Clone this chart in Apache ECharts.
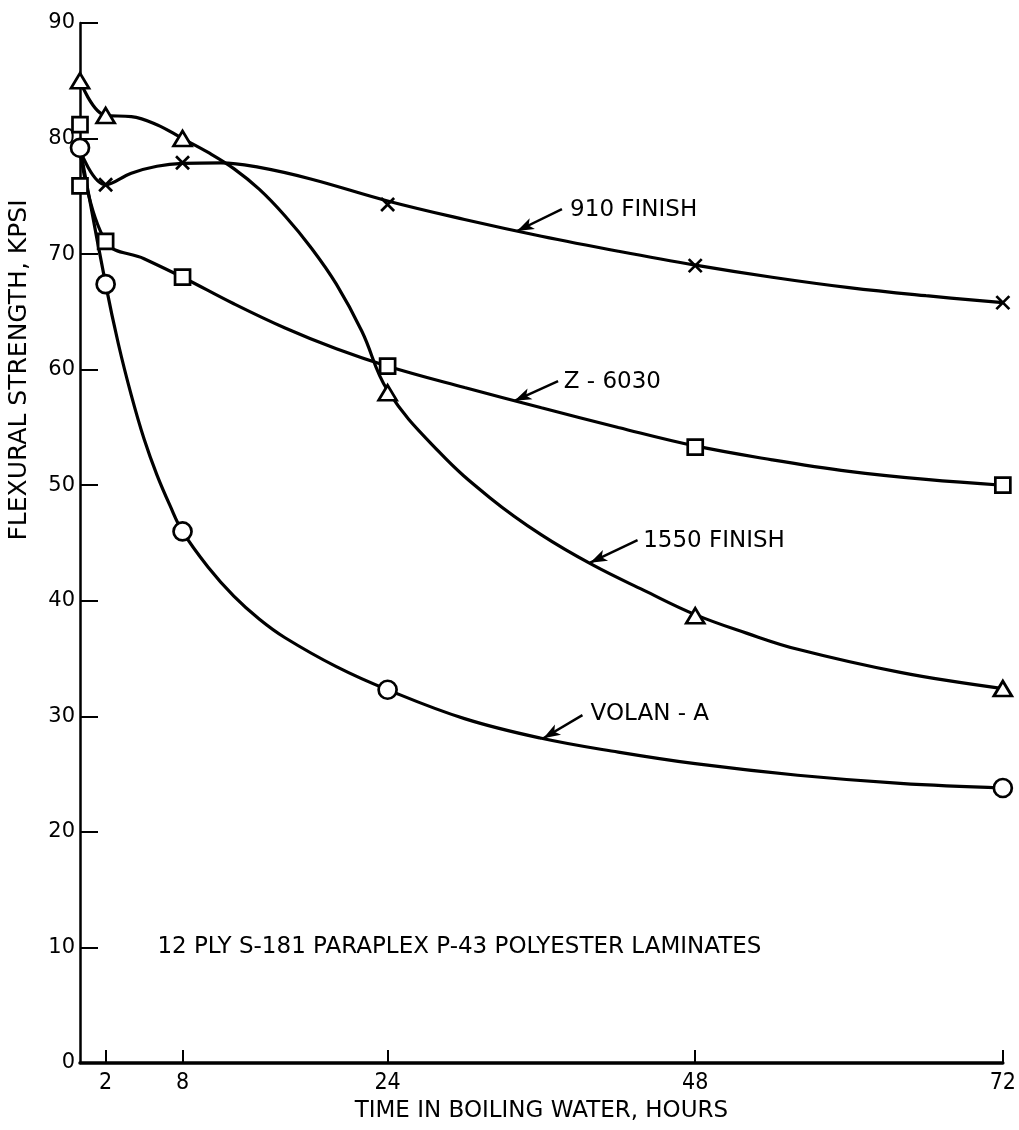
<!DOCTYPE html>
<html>
<head>
<meta charset="utf-8">
<script src="https://cdn.jsdelivr.net/npm/echarts@6/dist/echarts.min.js"></script>
<style>
html,body{margin:0;padding:0;background:#fff;}
#chart{width:1019px;height:1130px;}
</style>
</head>
<body>
<div id="chart"></div>
<script>
// ---------------- data ----------------
const xTicks = [2, 8, 24, 48, 72];

// plotted test points (markers)
const markHours = [0, 2, 8, 24, 48, 72];
const finish1550Marks = [85, 82, 80, 58, 38.7, 32.4];
const finish910MarkHours = [2, 8, 24, 48, 72];
const finish910Marks = [76, 77.9, 74.3, 69, 65.8];
const z6030MarkHours = [0, 0, 2, 8, 24, 48, 72];
const z6030Marks = [81.2, 75.9, 71.1, 68, 60.3, 53.3, 50];
const volanMarkHours = [0, 2, 8, 24, 72];
const volanMarks = [79.2, 67.4, 46, 32.3, 23.8];

// points
const curve1550Hours = [0, 2, 4, 6, 8, 10, 12, 14, 16, 18, 20, 22, 24, 28, 32, 36, 40, 44, 48, 52, 56, 64, 72];
const curve1550 = [85, 82, 81.9, 81.2, 80, 78.8, 77.4, 75.6, 73.3, 70.6, 67.4, 63.3, 58.2, 52.9, 48.9, 45.7, 43.1, 40.9, 38.8, 37.2, 35.8, 33.8, 32.4];
const curve910Hours = [0, 2, 4, 6, 8, 11, 14, 18, 24, 30, 36, 42, 48, 54, 60, 66, 72];
const curve910 = [79, 76, 77.0, 77.6, 77.85, 77.9, 77.5, 76.5, 74.6, 73.0, 71.55, 70.25, 69.05, 68.0, 67.1, 66.4, 65.8];
const curveZ6030Hours = [0, 2, 5, 8, 12, 16, 20, 24, 30, 36, 42, 48, 54, 60, 66, 72];
const curveZ6030 = [79, 71.1, 69.6, 68, 65.7, 63.6, 61.8, 60.3, 58.45, 56.7, 55.0, 53.4, 52.2, 51.2, 50.5, 50.0];
const curveVolanHours = [0, 2, 3, 4, 5, 6, 7, 8, 10, 12, 14, 16, 20, 24, 30, 36, 42, 48, 56, 64, 72];
const curveVolan = [79.2, 67.4, 62.2, 57.8, 54.0, 50.9, 48.3, 46.0, 42.9, 40.4, 38.4, 36.8, 34.3, 32.3, 29.8, 28.1, 26.9, 25.9, 24.9, 24.2, 23.8];

// ---------------- annotation placement (data coordinates) ----------------
const notes = {
  '910 FINISH': {text: [38.2, 73.85], from: [37.6, 73.9], to: [34.1, 72.0]},
  'Z - 6030': {text: [37.7, 58.96], from: [37.3, 59.0], to: [33.9, 57.3]},
  '1550 FINISH': {text: [43.9, 45.17], from: [43.5, 45.25], to: [39.8, 43.3]},
  'VOLAN - A': {text: [39.8, 30.24], from: [39.2, 30.1], to: [36.15, 28.1]}
};
const footNote = '12 PLY S-181 PARAPLEX P-43 POLYESTER LAMINATES';
const xTitle = 'TIME IN BOILING WATER, HOURS';
const yTitle = 'FLEXURAL STRENGTH, KPSI';

const FONT = 'DejaVu Sans';
const COND = 'DejaVu Sans Condensed';

const zip = (xs, ys) => xs.map((x, i) => [x, ys[i]]);

function annot(name) {
  const n = notes[name];
  return {
    markLine: {
      silent: true,
      symbol: ['none', 'arrow'],
      symbolSize: [9, 17],
      lineStyle: {color: '#000', width: 2.5, type: 'solid'},
      label: {show: false},
      data: [[{coord: n.from}, {coord: n.to}]]
    },
    markPoint: {
      silent: true,
      symbol: 'circle',
      symbolSize: 1,
      itemStyle: {color: 'rgba(0,0,0,0)'},
      label: {
        show: true, position: 'right', distance: 0,
        formatter: name, color: '#000', fontSize: 23, fontFamily: FONT
      },
      data: [{coord: n.text}]
    }
  };
}

function curve(name, xs, ys) {
  return Object.assign({
    type: 'line', name: name, smooth: 0.4, showSymbol: false, symbol: 'none',
    lineStyle: {color: '#000', width: 3.2}, z: 2,
    data: zip(xs, ys)
  }, annot(name));
}

function marks(name, symbol, size, xs, ys, fill) {
  return {
    type: 'scatter', name: name + ' points', symbol: symbol, symbolSize: size,
    itemStyle: {color: fill, borderColor: '#000', borderWidth: 2.7, opacity: 1},
    z: 4, data: zip(xs, ys)
  };
}

const option = {
  animation: false,
  backgroundColor: '#fff',
  grid: {left: 80, right: 15, top: 23, bottom: 67},
  xAxis: {
    type: 'value', min: 0, max: 72,
    axisLine: {lineStyle: {color: '#000', width: 3.5}},
    axisTick: {customValues: xTicks, inside: true, length: 13, lineStyle: {color: '#000', width: 2}},
    axisLabel: {customValues: xTicks, color: '#000', fontSize: 23, fontFamily: COND, margin: 9},
    splitLine: {show: false},
    name: xTitle,
    nameLocation: 'middle', nameGap: 31,
    nameTextStyle: {color: '#000', fontSize: 23, fontFamily: FONT}
  },
  yAxis: {
    type: 'value', min: 0, max: 90, interval: 10,
    axisLine: {lineStyle: {color: '#000', width: 2.5}},
    axisTick: {inside: true, length: 18, lineStyle: {color: '#000', width: 2}},
    axisLabel: {color: '#000', fontSize: 21, fontFamily: FONT, margin: 5},
    splitLine: {show: false}
  },
  graphic: [
    {
      type: 'text', x: 19, y: 370, rotation: Math.PI / 2,
      style: {text: yTitle, font: '25px "DejaVu Sans"', fill: '#000',
        align: 'center', verticalAlign: 'middle'}
    }
  ],
  series: [
    curve('1550 FINISH', curve1550Hours, curve1550),
    curve('910 FINISH', curve910Hours, curve910),
    curve('Z - 6030', curveZ6030Hours, curveZ6030),
    curve('VOLAN - A', curveVolanHours, curveVolan),
    marks('1550 FINISH', 'triangle', [18, 15], markHours, finish1550Marks, '#fff'),
    marks('910 FINISH', 'path://M0,0L10,10M10,0L0,10', 13, finish910MarkHours, finish910Marks, 'none'),
    marks('Z - 6030', 'rect', 15, z6030MarkHours, z6030Marks, '#fff'),
    marks('VOLAN - A', 'circle', 18, volanMarkHours, volanMarks, '#fff'),
    {
      type: 'scatter', name: 'note', symbolSize: 0, silent: true, data: [],
      markPoint: {
        silent: true, symbol: 'circle', symbolSize: 1,
        itemStyle: {color: 'rgba(0,0,0,0)'},
        label: {show: true, position: 'right', distance: 0, formatter: footNote,
          color: '#000', fontSize: 23, fontFamily: FONT},
        data: [{coord: [6.0, 10]}]
      }
    }
  ]
};

const chart = echarts.init(document.getElementById('chart'), null, {renderer: 'canvas'});
chart.setOption(option);
</script>
</body>
</html>
